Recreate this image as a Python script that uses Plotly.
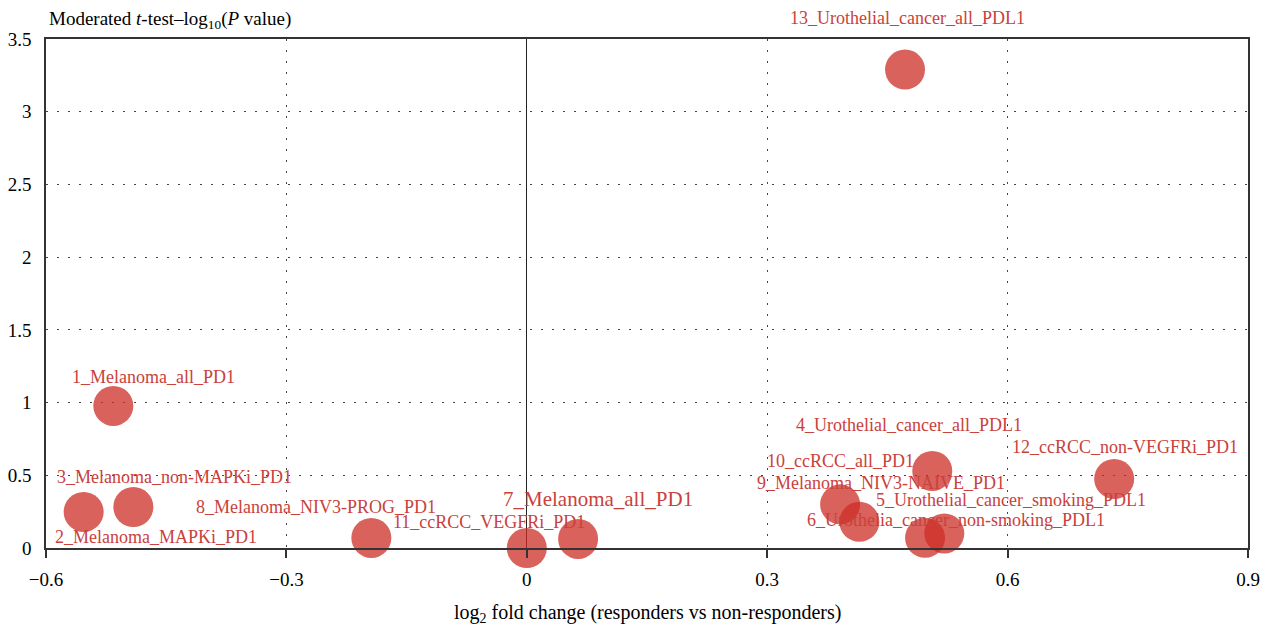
import plotly.graph_objects as go

# Data
labels = ["1_Melanoma_all_PD1", "2_Melanoma_MAPKi_PD1", "3_Melanoma_non-MAPKi_PD1",
          "4_Urothelial_cancer_all_PDL1", "5_Urothelial_cancer_smoking_PDL1",
          "6_Urothelia_cancer_non-smoking_PDL1", "7_Melanoma_all_PD1",
          "8_Melanoma_NIV3-PROG_PD1", "9_Melanoma_NIV3-NAIVE_PD1", "10_ccRCC_all_PD1",
          "11_ccRCC_VEGFRi_PD1", "12_ccRCC_non-VEGFRi_PD1", "13_Urothelial_cancer_all_PDL1"]
log2fc = [-0.516, -0.553, -0.491, 0.506, 0.521, 0.497, 0.064, -0.194, 0.415, 0.391, 0.0, 0.733, 0.472]
neglog10p = [0.977, 0.248, 0.282, 0.53, 0.10, 0.07, 0.062, 0.069, 0.18, 0.30, 0.0, 0.475, 3.29]

# label offsets in pixels (style)
dx = [40, 72, 41, -23, 67, 31, 20, -55, 22, 0, -38, 11, 2]
dy = [29, -25, 30, 46, 33, 18, 40, 31, 39, 43, 26, 32, 52]
lsize = [18, 18, 18, 18, 18, 18, 21, 18, 18, 18, 18, 18, 18]

FONT = "Liberation Serif"
RED = "rgb(204,46,38)"
LBL = "rgb(201,65,59)"

fig = go.Figure()
fig.add_trace(go.Scatter(
    x=log2fc, y=neglog10p, mode="markers",
    marker=dict(size=40, color=RED, opacity=0.75, line=dict(width=0)),
    cliponaxis=False, hoverinfo="text", text=labels, showlegend=False))

for i, lab in enumerate(labels):
    fig.add_annotation(x=log2fc[i], y=neglog10p[i], text=lab, showarrow=False,
                       xshift=dx[i], yshift=dy[i],
                       font=dict(family=FONT, size=lsize[i], color=LBL))

fig.add_annotation(xref="paper", yref="paper", x=0, y=1, xanchor="left", yanchor="middle",
                   xshift=1, yshift=19, showarrow=False,
                   text="Moderated <i>t</i>-test–log<sub>10</sub>(<i>P</i> value)",
                   font=dict(family=FONT, size=19, color="black"))
fig.add_annotation(xref="paper", yref="paper", x=0.5, y=0, xanchor="center", yanchor="middle",
                   yshift=-65, showarrow=False,
                   text="log<sub>2</sub> fold change (responders vs non-responders)",
                   font=dict(family=FONT, size=20, color="black"))

fig.update_layout(
    width=1270, height=630,
    margin=dict(l=38, r=30, t=31, b=90),
    plot_bgcolor="white", paper_bgcolor="white",
    font=dict(family=FONT, size=19, color="black"),
    xaxis=dict(range=[-0.6, 0.9], tickvals=[-0.6, -0.3, 0, 0.3, 0.6, 0.9],
               ticktext=["−0.6", "−0.3", "0", "0.3", "0.6", "0.9"], automargin=False,
               showgrid=True, gridcolor="#444", griddash="2px,9px", gridwidth=1,
               zeroline=True, zerolinecolor="#222", zerolinewidth=1.2,
               showline=True, linecolor="#333", linewidth=1.5, mirror=True,
               ticks="outside", ticklen=8, tickcolor="#333", tickwidth=1.5,
               ticklabelstandoff=5),
    yaxis=dict(range=[0, 3.5], tickvals=[0, 0.5, 1, 1.5, 2, 2.5, 3, 3.5],
               ticktext=["0", "0.5", "1", "1.5", "2", "2.5", "3", "3.5"], automargin=False,
               showgrid=True, gridcolor="#444", griddash="2px,9px", gridwidth=1,
               zeroline=False,
               showline=True, linecolor="#333", linewidth=1.5, mirror=True,
               ticks="", ticklabelstandoff=9),
)

fig.write_html("out.html")
